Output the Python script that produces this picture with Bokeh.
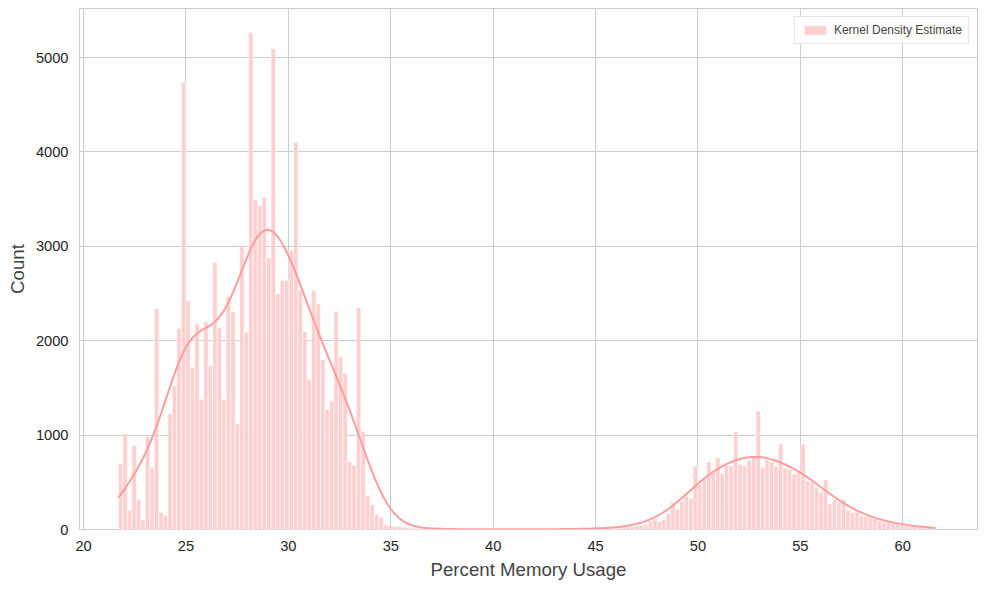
import numpy as np
from bokeh.plotting import figure
from bokeh.models import Range1d, Legend, LegendItem, SingleIntervalTicker
from bokeh.embed import file_html
from bokeh.resources import INLINE

# histogram counts (bins from 21.7 to 61.6)
x_start = 21.7
x_end = 61.6
left_counts = [700, 1015, 200, 890, 320, 100, 985, 650, 2340, 180, 150, 1230, 1525, 2130,
               4735, 2425, 1715, 2180, 1380, 2200, 1735, 2830, 2140, 1380, 2470, 2310, 1120,
               3010, 2090, 5265, 3495, 3430, 3525, 2880, 5095, 2500, 2640, 2640, 2960, 4100,
               2540, 2095, 1590, 2530, 2390, 1800, 1270, 1365, 2310, 1830, 1650, 720, 680,
               2350, 1040, 360, 265, 155, 130, 50, 45, 35, 30]
middle_counts = [25, 20, 15, 12, 10, 8, 6, 5, 4, 4, 3, 3, 3, 2, 2, 2, 2, 2, 2, 2, 2, 2, 2, 2,
                 2, 2, 2, 2, 2, 2, 2, 2, 3, 3, 3, 3, 4, 4, 5, 5, 6, 7, 8, 9, 10, 12, 14, 16,
                 18, 20, 25, 30]
right_counts = [40, 45, 55, 90, 110, 85, 105, 170, 285, 215, 295, 350, 330, 670, 475, 535,
                715, 605, 760, 595, 680, 675, 1040, 690, 675, 730, 780, 1255, 655, 740, 715,
                670, 905, 645, 640, 585, 610, 905, 515, 505, 445, 390, 525, 270, 320, 285,
                320, 210, 180, 185, 145, 140, 125, 115, 90, 80, 75, 65, 55, 45, 40, 38, 35,
                32, 28, 25, 20]

counts = np.array(left_counts + middle_counts + right_counts, dtype=float)
n_bins = len(counts)
edges = np.linspace(x_start, x_end, n_bins + 1)
centers = (edges[:-1] + edges[1:]) / 2
bw = edges[1] - edges[0]

# smoothed density of the histogram, scaled to counts
sigma = 1.0
kde_x = np.linspace(x_start, x_end, 400)
w = np.exp(-0.5 * ((kde_x[:, None] - centers[None, :]) / sigma) ** 2) / (sigma * np.sqrt(2 * np.pi))
kde_y = (w * counts[None, :]).sum(axis=1) * bw

p = figure(width=984, height=584, output_backend="svg", toolbar_location=None,
           x_range=Range1d(19.8, 63.65), y_range=Range1d(0, 5520),
           min_border_left=79, min_border_right=7, min_border_top=8, min_border_bottom=55)

bars = p.quad(left=edges[:-1], right=edges[1:], bottom=0, top=counts,
              fill_color="#ffc8c8", fill_alpha=0.85, line_color="white", line_width=0.6)
p.line(kde_x, kde_y, line_color="#ff9c9c", line_width=2)

p.xaxis.ticker = SingleIntervalTicker(interval=5)
p.yaxis.ticker = SingleIntervalTicker(interval=1000)
p.xaxis.axis_label = "Percent Memory Usage"
p.yaxis.axis_label = "Count"
for ax in (p.xaxis, p.yaxis):
    ax.axis_label_text_font = "Liberation Sans"
    ax.axis_label_text_font_size = "14pt"
    ax.axis_label_text_font_style = "normal"
    ax.major_label_text_font = "Liberation Sans"
    ax.major_label_text_font_size = "11pt"
    ax.major_label_text_color = "#262626"
    ax.axis_line_color = None
    ax.major_tick_line_color = None
    ax.minor_tick_line_color = None
p.yaxis.major_label_orientation = 0
p.grid.grid_line_color = "#cccccc"
p.grid.grid_line_alpha = 1
p.outline_line_color = "#cccccc"
p.outline_line_width = 1

legend = Legend(items=[LegendItem(label="Kernel Density Estimate", renderers=[bars])],
                location="top_right", label_text_font="Liberation Sans",
                label_text_font_size="9pt", border_line_color="#cccccc",
                glyph_width=28, glyph_height=12, padding=6, margin=8)
p.add_layout(legend)

open("out.html", "w").write(file_html(p, INLINE))
